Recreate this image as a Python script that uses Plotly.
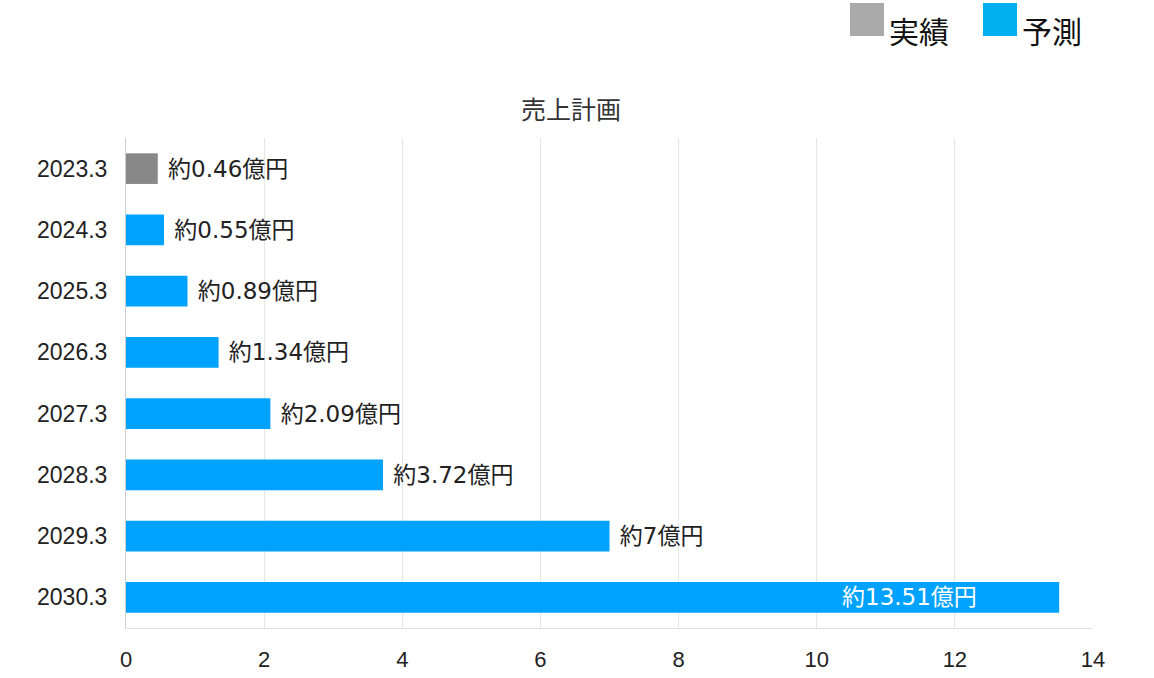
import plotly.graph_objects as go

categories = ["2023.3", "2024.3", "2025.3", "2026.3", "2027.3", "2028.3", "2029.3", "2030.3"]
values = [0.46, 0.55, 0.89, 1.34, 2.09, 3.72, 7, 13.51]
labels = ["約0.46億円", "約0.55億円", "約0.89億円", "約1.34億円", "約2.09億円", "約3.72億円", "約7億円", "約13.51億円"]
kinds = ["実績", "予測", "予測", "予測", "予測", "予測", "予測", "予測"]
legend_names = ["実績", "予測"]
legend_colors = ["#aaaaaa", "#00b0f0"]
bar_colors = {"実績": "#888888", "予測": "#00a2ff"}
x_ticks = [0, 2, 4, 6, 8, 10, 12, 14]
title = "売上計画"

TICKFONT = "Liberation Sans, Noto Sans CJK JP, sans-serif"
LABELFONT = "DejaVu Sans, Noto Sans CJK JP, sans-serif"
CJK = "Noto Sans CJK JP, sans-serif"

W, H = 1154, 678
L, R, T, B = 126, 61, 138, 50
PW, PH = W - L - R, H - T - B


def px(x):
    return (x - L) / PW


def py(y):
    return (H - B - y) / PH


n = len(values)
outside_text = [labels[i] if i < n - 1 else "" for i in range(n)]

fig = go.Figure()
fig.add_trace(go.Bar(
    y=categories, x=values, orientation="h",
    marker=dict(color=[bar_colors[k] for k in kinds], line=dict(width=0)),
    text=outside_text, texttemplate=" %{text}", textposition="outside", cliponaxis=False,
    textfont=dict(size=23, color="#222222", family=LABELFONT),
    hoverinfo="skip", showlegend=False,
))

annotations = [dict(
    x=values[-1], y=n - 1, xref="x", yref="y",
    text=labels[-1], showarrow=False, xanchor="right", xshift=-80,
    font=dict(size=23, color="#ffffff", family=LABELFONT),
)]
annotations.append(dict(
    x=px(571), y=py(108), xref="paper", yref="paper", xanchor="center", yanchor="middle",
    text=title, showarrow=False, font=dict(size=25, color="#333333", family=CJK),
))

shapes = []
leg_x = [850, 983]
for i, name in enumerate(legend_names):
    x0 = leg_x[i]
    shapes.append(dict(type="rect", xref="paper", yref="paper",
                       x0=px(x0), x1=px(x0 + 34),
                       y0=py(36), y1=py(3),
                       fillcolor=legend_colors[i], line=dict(width=0)))
    annotations.append(dict(
        x=px(x0 + 37), y=py(30), xref="paper", yref="paper",
        text=name, showarrow=False, xanchor="left", yanchor="middle",
        font=dict(size=30, color="#111111", family=CJK),
    ))

fig.update_layout(
    width=W, height=H,
    margin=dict(l=L, r=R, t=T, b=B, autoexpand=False),
    paper_bgcolor="white", plot_bgcolor="white",
    bargap=0.5,
    showlegend=False,
    annotations=annotations,
    shapes=shapes,
    font=dict(family=TICKFONT),
)
fig.update_xaxes(
    range=[0, 14], tickvals=x_ticks, showgrid=True, gridcolor="#e6e6e6", gridwidth=1,
    zeroline=False, showline=True, linecolor="#e0e0e0", linewidth=1,
    tickfont=dict(size=22, color="#222222", family=TICKFONT), ticks="outside", ticklen=0,
    ticklabelstandoff=12, fixedrange=True, automargin=False,
)
fig.update_yaxes(
    type="category",
    categoryorder="array", categoryarray=categories, autorange="reversed",
    showline=True, linecolor="#cccccc", linewidth=1,
    tickfont=dict(size=23, color="#222222", family=TICKFONT), ticks="outside", ticklen=0,
    ticklabelstandoff=13, fixedrange=True, showgrid=False, automargin=False,
)

fig.write_html(
    "out.html",
    config={"displayModeBar": False},
    post_script="document.body.style.margin='0';document.body.style.overflow='hidden';",
)
